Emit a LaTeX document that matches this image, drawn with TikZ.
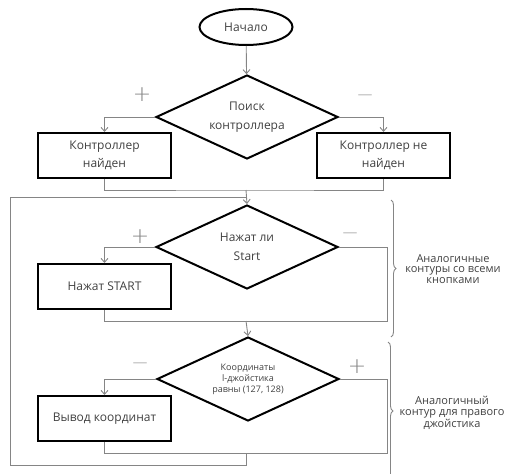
\documentclass[tikz,border=0pt]{standalone}
\usepackage{fontspec}
\setmainfont{Open Sans}
\newfontfamily\signfont{DejaVu Sans ExtraLight}
\usetikzlibrary{shapes.geometric,arrows.meta,decorations.pathreplacing}
\definecolor{txt}{HTML}{404040}
\definecolor{ln}{HTML}{858585}
\tikzset{
  conn/.style={draw=ln, line width=0.9pt},
  arr/.style={-{Straight Barb[length=4pt,width=7pt]}},
  box/.style={draw=black, line width=2pt, minimum width=133pt, minimum height=45pt, inner sep=0pt,
    align=center, text=txt, font=\fontsize{12}{18}\selectfont},
  dec/.style={diamond, draw=black, line width=2pt, aspect=2.2, inner sep=0pt,
    minimum width=182pt, minimum height=84pt, align=center, text=txt, font=\fontsize{12}{18.5}\selectfont},
  sign/.style={text=ln, inner sep=0pt, font=\signfont\fontsize{22}{22}\selectfont},
  minus/.style={text=ln, inner sep=0pt, font=\signfont\fontsize{15}{15}\selectfont},
  note/.style={text=txt, align=center, inner sep=0pt, font=\fontsize{11}{10.5}\selectfont},
  brc/.style={draw=ln, line width=0.9pt, decorate, decoration={brace, amplitude=5pt}}
}
\begin{document}
\begin{tikzpicture}[x=1pt, y=-1pt]
\useasboundingbox (0,0) rectangle (510,473);
\clip (0,0) rectangle (510,473);
% nodes
\node[ellipse, draw=black, line width=2pt, minimum width=93pt, minimum height=36pt, inner sep=0pt,
  text=txt, font=\fontsize{12}{18}\selectfont] (start) at (246,27) {Начало};
\node[dec] (d1) at (247,117) {Поиск\\контроллера};
\node[box] (c1) at (104.5,155.5) {Контроллер\\найден};
\node[box] (c2) at (383.5,155.5) {Контроллер не\\найден};
\node[dec] (d2) at (247,247) {Нажат ли\\Start};
\node[box] (c3) at (104.5,286.5) {Нажат START};
\node[dec, font=\fontsize{9}{11}\selectfont] (d3) at (248,379) {Координаты\\l-джойстика\\равны (127, 128)};
\node[box] (c4) at (104.5,418.5) {Вывод координат};
% signs
\node[sign] (p1) at (142,95) {+};
\node[minus] (n1) at (365,97) {—};
\node[sign] (p2) at (140,237) {+};
\node[minus] (n2) at (350,235) {—};
\node[minus] (n3) at (140,365) {—};
\node[sign] (p3) at (357,367) {+};
% notes
\node[note] (t1) at (453,269) {Аналогичные\\контуры со всеми\\кнопками};
\node[note] (t2) at (452,413) {Аналогичный\\контур для правого\\джойстика};
% coordinates
\coordinate (m1) at (246,190);
\coordinate (j1) at (246,197);
\coordinate (r2) at (387,321);
\coordinate (m2) at (246,321);
\coordinate (r3) at (387,453);
\coordinate (m3) at (246,453);
\coordinate (b1) at (246,465);
\coordinate (b2) at (10,465);
\coordinate (b3) at (10,197);
\coordinate (k1) at (391,200);
\coordinate (k2) at (391,337);
\coordinate (k3) at (388,342);
\coordinate (k4) at (388,480);
% connectors
\draw[conn,arr] (start) -- (d1);
\draw[conn,arr] (d1.west) -| (c1.north);
\draw[conn,arr] (d1.east) -| (c2.north);
\draw[conn] (c1.south) |- (m1) -| (c2.south);
\draw[conn,arr] (m1) -- (d2.north);
\draw[conn,arr] (d2.west) -| (c3.north);
\draw[conn] (d2.east) -| (r2) -- (m2);
\draw[conn] (c3.south) |- (m2);
\draw[conn,arr] (m2) -- (d3.north);
\draw[conn,arr] (d3.west) -| (c4.north);
\draw[conn] (d3.east) -| (r3) -- (m3);
\draw[conn] (c4.south) |- (m3) -- (b1) -- (b2) -- (b3) -- (j1);
% braces
\draw[brc] (k1) -- (k2);
\draw[brc] (k3) -- (k4);
\end{tikzpicture}
\end{document}
